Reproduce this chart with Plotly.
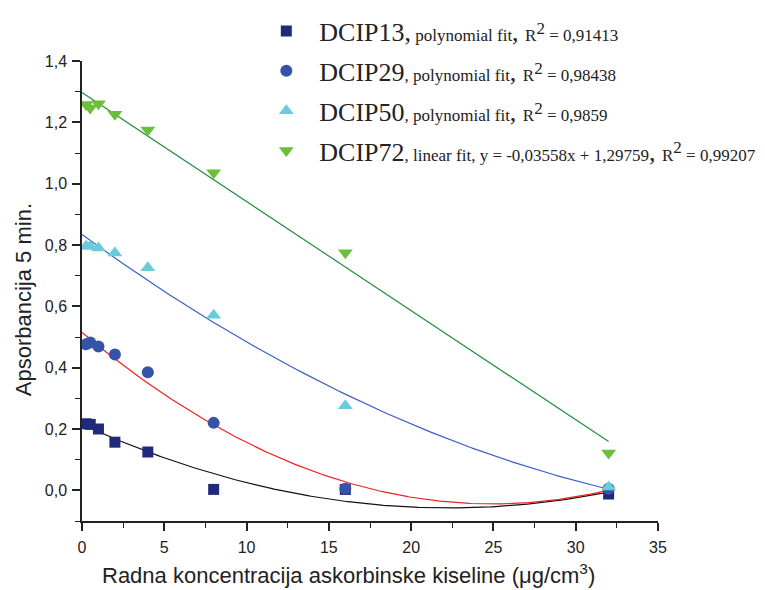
import numpy as np
import plotly.graph_objects as go

conc = [0.25, 0.5, 1, 2, 4, 8, 16, 32]
dcip13 = [0.217, 0.215, 0.200, 0.157, 0.125, 0.003, 0.003, -0.012]
dcip29 = [0.476, 0.482, 0.469, 0.443, 0.385, 0.220, 0.005, 0.005]
dcip50 = [0.796, 0.796, 0.790, 0.774, 0.726, 0.571, 0.276, 0.011]
dcip72 = [1.258, 1.247, 1.261, 1.226, 1.175, 1.036, 0.775, 0.122]

lin_slope = -0.03558
lin_icept = 1.29759

S = "<span style='font-size:17px'>"
SUP = "R<sup><span style='font-size:17px'>2</span></sup>"
names = [
    "&nbsp;&nbsp;DCIP13," + S + " polynomial fit</span>, " + S + SUP + " = 0,91413</span>",
    "&nbsp;&nbsp;DCIP29" + S + ", polynomial fit</span>, " + S + SUP + " = 0,98438</span>",
    "&nbsp;&nbsp;DCIP50" + S + ", polynomial fit</span>, " + S + SUP + " = 0,9859</span>",
    "&nbsp;&nbsp;DCIP72" + S + ", linear fit, y = -0,03558x + 1,29759</span>, " + S + SUP + " = 0,99207</span>",
]

fig = go.Figure()

xs = np.linspace(0, 32, 300)
fit_colors = ["#111111", "#ee2222", "#3a5fcd", "#1e9040"]
series = [dcip13, dcip29, dcip50]
for ys, col in zip(series, fit_colors[:3]):
    c = np.polyfit(conc, ys, 2)
    fig.add_trace(go.Scatter(x=xs, y=np.polyval(c, xs), mode="lines",
                             line=dict(color=col, width=1.2), showlegend=False,
                             hoverinfo="skip"))
xl = np.array([0, 32])
fig.add_trace(go.Scatter(x=xl, y=lin_slope * xl + lin_icept, mode="lines",
                         line=dict(color=fit_colors[3], width=1.2), showlegend=False,
                         hoverinfo="skip"))

markers = [
    ("square", "#1f2a7a", 11),
    ("circle", "#3553a8", 12),
    ("triangle-up", "#6acbdc", 13),
    ("triangle-down", "#6cbf3c", 13),
]
for i, (ys, name, (sym, col, sz)) in enumerate(zip([dcip13, dcip29, dcip50, dcip72], names, markers)):
    fig.add_trace(go.Scatter(x=conc, y=ys, mode="markers", name=name, legendgroup="g%d" % i,
                             marker=dict(symbol=sym, color=col, size=sz, line=dict(width=0))))

axis_font = dict(family="Liberation Sans, Arial", size=16, color="#222222")
fig.update_layout(
    width=765, height=590,
    margin=dict(l=82, r=107, t=61, b=69, autoexpand=False),
    paper_bgcolor="white", plot_bgcolor="white",
    separators=", ",
    showlegend=True,
    legend=dict(x=0.32, y=1.116, xanchor="left", yanchor="top",
                bgcolor="rgba(0,0,0,0)", tracegroupgap=3,
                font=dict(family="Liberation Serif, Times New Roman", size=26, color="#222222"),
                itemsizing="trace"),
    xaxis=dict(range=[0, 35], dtick=5, tick0=0, showgrid=False, zeroline=False,
               showline=True, linecolor="#222222", linewidth=1.5,
               ticks="outside", ticklen=8, tickwidth=1.5, tickcolor="#222222",
               tickfont=axis_font, ticklabelstandoff=3,
               minor=dict(ticks="outside", dtick=2.5, ticklen=5, tickwidth=1.2,
                          tickcolor="#222222", showgrid=False)),
    yaxis=dict(range=[-0.1, 1.4], dtick=0.2, tick0=0, tickformat=".1f",
               showgrid=False, zeroline=False,
               showline=True, linecolor="#222222", linewidth=1.5,
               ticks="outside", ticklen=8, tickwidth=1.5, tickcolor="#222222",
               tickfont=axis_font, ticklabelstandoff=2,
               minor=dict(ticks="outside", dtick=0.1, ticklen=5, tickwidth=1.2,
                          tickcolor="#222222", showgrid=False)),
    annotations=[
        dict(text="Radna koncentracija askorbinske kiseline (μg/cm<sup>3</sup>)",
             xref="paper", yref="paper", x=0.4627, y=-0.116,
             xanchor="center", yanchor="middle", showarrow=False,
             font=dict(family="Liberation Sans, Arial", size=22, color="#222222")),
        dict(text="Apsorbancija 5 min.", textangle=-90,
             xref="paper", yref="paper", x=-0.1024, y=0.48,
             xanchor="center", yanchor="middle", showarrow=False,
             font=dict(family="Liberation Sans, Arial", size=22, color="#222222")),
    ],
)

fig.write_html("out.html")
